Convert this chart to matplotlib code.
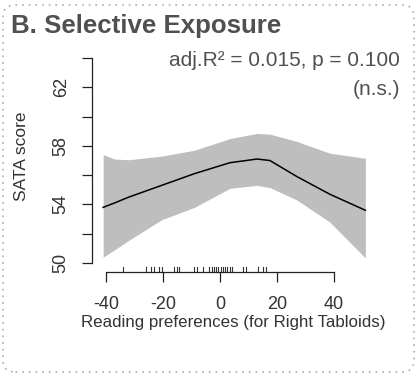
import matplotlib

matplotlib.use("Agg")
import matplotlib.pyplot as plt
from matplotlib.patches import FancyBboxPatch

plt.rcParams["font.family"] = ["Liberation Sans", "DejaVu Sans"]

# smooth fit
x_fit = [-41, -37, -32, -20.5, -9, 3.5, 13, 17.5, 27, 38.5, 51]
y_fit = [53.8, 54.1, 54.5, 55.3, 56.1, 56.85, 57.1, 57.0, 55.9, 54.7, 53.6]
y_upper = [57.4, 57.1, 57.05, 57.3, 57.7, 58.5, 58.85, 58.8, 58.3, 57.5, 57.15]
y_lower = [50.4, 50.9, 51.55, 52.95, 53.8, 55.1, 55.3, 55.15, 54.3, 52.8, 50.35]

rug_x = [-33.9, -26, -24.2, -23, -21.3, -20.5, -16, -15.2, -14.3, -9, -8, -6.1,
         -3.7, -2.9, -2.1, -1.4, -0.6, 0.2, 0.9, 1.8, 2.6, 3.5, 4.3, 8.2, 9,
         13.2, 15, 16.1]

x_ticks = [-40, -20, 0, 20, 40]
y_ticks = [50, 52, 54, 56, 58, 60, 62, 64]
y_ticklabels = ["50", "", "54", "", "58", "", "62", ""]

W, H = 417, 377
fig = plt.figure(figsize=(W / 100, H / 100), dpi=100)

# plot region in pixels
left, right, top, bottom = 100, 370, 58, 263
ax = fig.add_axes([left / W, 1 - bottom / H, (right - left) / W, (bottom - top) / H])
ax.set_xlim((left - 220) / 2.85, (right - 220) / 2.85)
ax.set_ylim(50, 64)

ax.fill_between(x_fit, y_lower, y_upper, color="#bebebe", lw=0)
ax.plot(x_fit, y_fit, color="black", lw=1.1)

# rug sits on the detached x axis line
ax_h = bottom - top
for xv in rug_x:
    ax.plot([xv, xv], [-9 / ax_h, -4 / ax_h], color="#333333", lw=0.8,
            transform=ax.get_xaxis_transform(), clip_on=False)

for side in ("top", "right"):
    ax.spines[side].set_visible(False)
ax.spines["left"].set_position(("outward", 8 * 0.72))
ax.spines["bottom"].set_position(("outward", 9 * 0.72))
ax.spines["left"].set_bounds(50, 64)
ax.spines["bottom"].set_bounds(-40, 40)
for side in ("left", "bottom"):
    ax.spines[side].set_color("#222222")
    ax.spines[side].set_linewidth(0.9)

ax.set_xticks(x_ticks)
ax.set_xticklabels([str(v) for v in x_ticks])
ax.set_yticks(y_ticks)
ax.set_yticklabels(y_ticklabels, rotation=90, va="center")
ax.tick_params(axis="both", length=7, width=0.9, color="#222222",
               labelsize=13, labelcolor="#333333")
ax.tick_params(axis="x", pad=10.5)
ax.tick_params(axis="y", pad=9)

fig.text(233 / W, 1 - 327 / H, "Reading preferences (for Right Tabloids)",
         ha="center", va="baseline", fontsize=12.2, color="#333333")
fig.text(22 / W, 1 - 156 / H, "SATA score", rotation=90, ha="center",
         va="center", fontsize=12.5, color="#333333")

fig.text(11 / W, 1 - 33 / H, "B. Selective Exposure", ha="left", va="baseline",
         fontsize=18.6, fontweight="bold", color="#505050")
fig.text(400 / W, 1 - 66 / H, "adj.R² = 0.015, p = 0.100", ha="right",
         va="baseline", fontsize=15, color="#505050")
fig.text(400 / W, 1 - 95 / H, "(n.s.)", ha="right", va="baseline",
         fontsize=15, color="#505050")

border = FancyBboxPatch((3 / W, 5 / H), 411 / W, 367 / H,
                        boxstyle="round,pad=0,rounding_size=0.03",
                        transform=fig.transFigure, fill=False,
                        edgecolor="#aaaaaa", linestyle=(0, (1, 3)), lw=1.2)
fig.patches.append(border)

fig.savefig("out.png", dpi=100)
